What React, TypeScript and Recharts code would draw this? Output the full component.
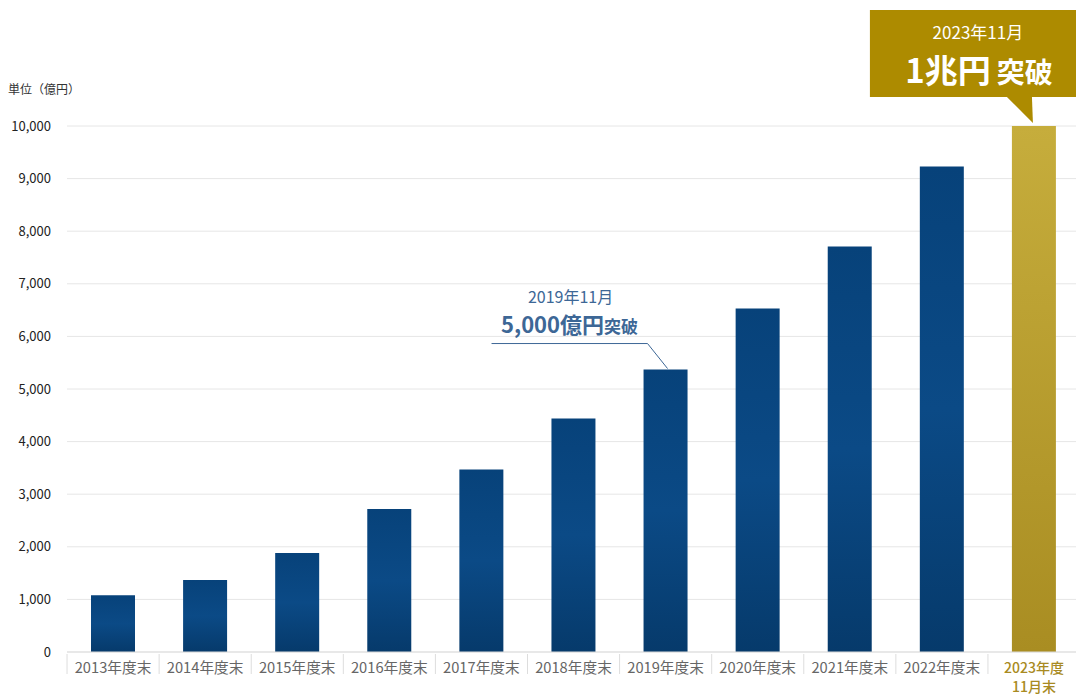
import React from 'react';
import { BarChart, Bar, XAxis, YAxis, CartesianGrid, Cell, LabelList } from 'recharts';

const categories = ['2013年度末', '2014年度末', '2015年度末', '2016年度末', '2017年度末', '2018年度末', '2019年度末', '2020年度末', '2021年度末', '2022年度末', '2023年度\n11月末'];
const values = [1080, 1370, 1880, 2720, 3470, 4440, 5370, 6530, 7710, 9230, 10000];
const yTicks = [0, 1000, 2000, 3000, 4000, 5000, 6000, 7000, 8000, 9000, 10000];

const data = categories.map((c, i) => ({ name: c, value: values[i] }));

const FONT = '"Noto Sans CJK JP", "Noto Sans", sans-serif';
const HALF_BAND = 46;

const XTick = (props: any) => {
  const { x, y, payload, index } = props;
  const lines = String(payload.value).split('\n');
  const last = index === categories.length - 1;
  return (
    <g>
      <line x1={x - HALF_BAND} y1={y - 6} x2={x - HALF_BAND} y2={y + 14} stroke="#dddddd" />
      {lines.map((l, i) => (
        <text key={i} x={x} y={y + 13 + i * 19} textAnchor="middle" fontSize={last ? 14 : 14.7} fill={last ? '#a88a22' : '#666666'} fontFamily={FONT} fontWeight={last ? 500 : 400}>
          {l}
        </text>
      ))}
    </g>
  );
};

const Annot = (props: any) => {
  const { x, y, width, index } = props;
  if (index === 6) {
    return (
      <g fontFamily={FONT}>
        <polyline points={`${x - 152},${y - 26} ${x + 4},${y - 26} ${x + 24},${y - 1}`} fill="none" stroke="#3d6796" strokeWidth={1} />
        <text x={x - 73} y={y - 67} textAnchor="middle" fontSize={16} fill="#3d6796">2019年11月</text>
        <text x={x - 74} y={y - 37} textAnchor="middle" fill="#3d6796" fontWeight={700}>
          <tspan fontSize={22}>5,000億円</tspan>
          <tspan fontSize={17}>突破</tspan>
        </text>
      </g>
    );
  }
  if (index === 10) {
    const cx = x + width / 2;
    return (
      <g fontFamily={FONT}>
        <rect x={x - 142} y={y - 116} width={220} height={87} fill="#ad8b00" />
        <polygon points={`${x - 6},${y - 30} ${x + 20},${y - 30} ${x + 21},${y - 3}`} fill="#ad8b00" />
        <text x={cx - 56} y={y - 87} textAnchor="middle" fontSize={17} fill="#ffffff">2023年11月</text>
        <text x={cx - 55} y={y - 43} textAnchor="middle" fill="#ffffff" fontWeight={700}>
          <tspan fontSize={33}>1兆円</tspan>
          <tspan dx={6} fontSize={28}>突破</tspan>
        </text>
      </g>
    );
  }
  return null;
};

export default function App() {
  return (
    <div style={{ position: 'absolute', left: 0, top: 0, width: 1076, height: 697, overflow: 'hidden', background: '#fff' }}>
      <div style={{ position: 'absolute', left: 8, top: 80, fontSize: 12, color: '#333', fontFamily: FONT }}>単位（億円）</div>
      <BarChart width={1084} height={697} data={data} margin={{ top: 126, right: 4, left: 0, bottom: 5 }}>
        <defs>
          <linearGradient id="blueG" x1="0" y1="0" x2="0" y2="1">
            <stop offset="0%" stopColor="#07427a" />
            <stop offset="50%" stopColor="#0b4a86" />
            <stop offset="100%" stopColor="#063a6b" />
          </linearGradient>
          <linearGradient id="goldG" x1="0" y1="0" x2="0" y2="1">
            <stop offset="0%" stopColor="#c6ad3c" />
            <stop offset="100%" stopColor="#a98d22" />
          </linearGradient>
        </defs>
        <CartesianGrid vertical={false} stroke="#e6e6e6" />
        <XAxis dataKey="name" interval={0} tickLine={false} axisLine={{ stroke: '#dddddd' }} tick={<XTick />} height={40} />
        <YAxis domain={[0, 10000]} ticks={yTicks} width={67} axisLine={false} tickLine={false} tickMargin={10}
          tickFormatter={(v: number) => v.toLocaleString('en-US')}
          tick={{ fontSize: 13, fill: '#222', fontFamily: FONT }} />
        <Bar dataKey="value" barSize={44} isAnimationActive={false}>
          {data.map((d, i) => (
            <Cell key={i} fill={i === data.length - 1 ? 'url(#goldG)' : 'url(#blueG)'} />
          ))}
          <LabelList dataKey="value" content={<Annot />} />
        </Bar>
      </BarChart>
    </div>
  );
}
